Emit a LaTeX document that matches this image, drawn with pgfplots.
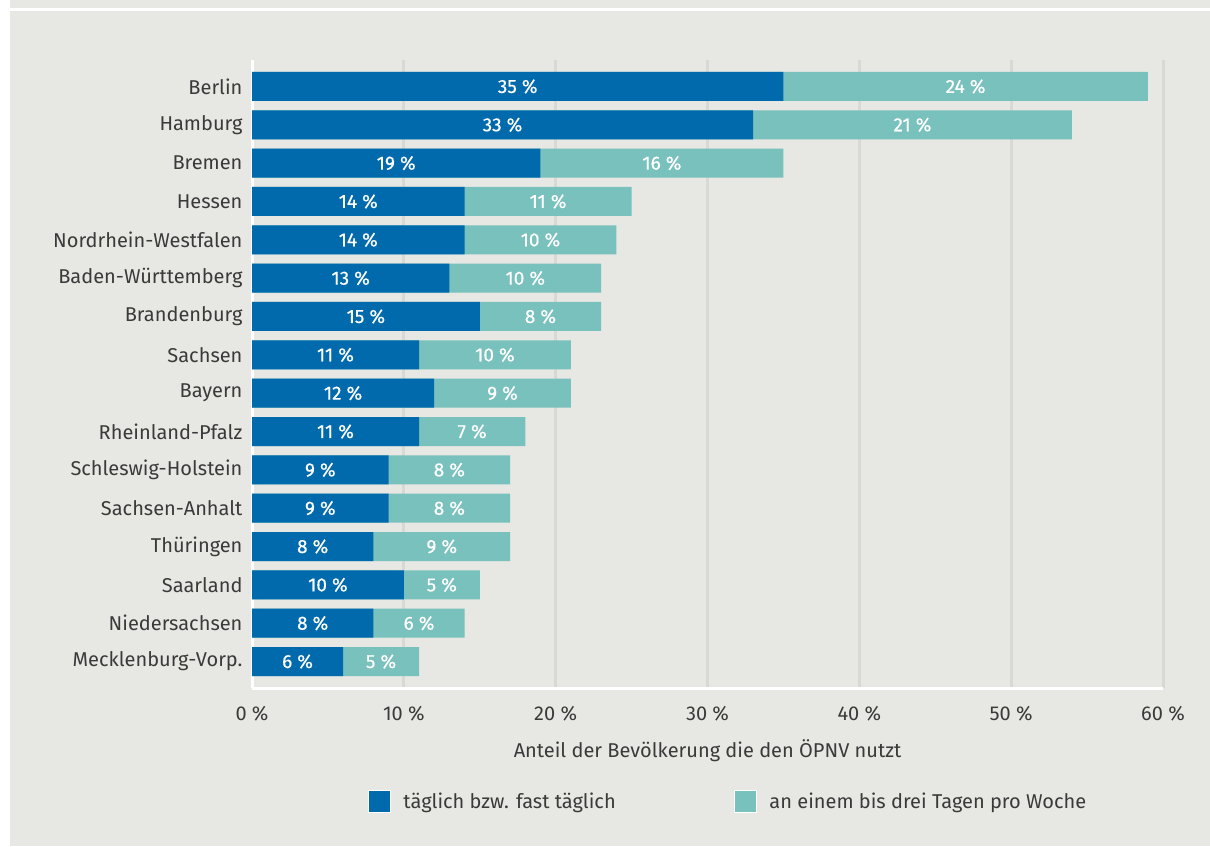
\documentclass[border=0pt]{standalone}
\usepackage{pgfplots}
\pgfplotsset{compat=1.18}
\usepackage{pgfplotstable}
\usepackage{fontspec}
\setmainfont{Fira Sans}
\newfontfamily\lblfont{Fira Sans}[FakeBold=0.5]
\definecolor{bgc}{HTML}{E7E7E3}
\definecolor{gridc}{HTML}{D8D8D6}
\definecolor{blueC}{HTML}{006AAD}
\definecolor{tealC}{HTML}{79C1BC}
\definecolor{txt}{HTML}{3A3A3A}
\pgfplotstableread{
y a b
0 35 24
1 33 21
2 19 16
3 14 11
4 14 10
5 13 10
6 15 8
7 11 10
8 12 9
9 11 7
10 9 8
11 9 8
12 8 9
13 10 5
14 8 6
15 6 5
}\data
\newcommand{\fs}{\fontsize{20}{23}\selectfont}
\newcommand{\fsb}{\fontsize{19}{22}\selectfont}
\begin{document}
\begin{tikzpicture}[x=1pt,y=1pt]
\useasboundingbox (0,0) rectangle (1210,846);
\fill[bgc] (0,0) rectangle (1210,846);
\fill[white] (0,0) rectangle (10,846);
\fill[white] (10,835) rectangle (1210,838);
\begin{axis}[
  at={(252pt,158pt)}, anchor=south west,
  scale only axis, width=911pt, height=628pt,
  xmin=0, xmax=60, ymin=-0.69, ymax=15.69, y dir=reverse,
  axis x line*=bottom, axis y line*=left,
  axis line style={white, line width=3pt, -},
  xmajorgrids, major grid style={gridc, line width=3pt},
  major tick length=0pt,
  xtick={0,10,20,30,40,50,60},
  xticklabels={0~\%,10~\%,20~\%,30~\%,40~\%,50~\%,60~\%},
  ytick={0,...,15},
  yticklabels={Berlin,Hamburg,Bremen,Hessen,Nordrhein-Westfalen,Baden-Württemberg,Brandenburg,Sachsen,Bayern,Rheinland-Pfalz,Schleswig-Holstein,Sachsen-Anhalt,Thüringen,Saarland,Niedersachsen,Mecklenburg-Vorp.},
  tick label style={font=\fs, text=txt},
  yticklabel style={xshift=-6pt},
  xticklabel style={yshift=-15pt},
  xlabel={Anteil der Bevölkerung die den ÖPNV nutzt},
  xlabel style={font=\fs, text=txt, yshift=-11pt},
  legend columns=2,
  legend style={at={(0.5225,-0.18)}, anchor=center, draw=none, fill=none, font=\fs, text=txt,
    /tikz/every even column/.append style={column sep=116pt}},
  legend image code/.code={\draw[#1, draw=white, line width=1pt] (0pt,-11pt) rectangle (22pt,11pt); \path (33pt,0pt);},
  clip=false,
]
\addplot[xbar, bar width=29pt, bar shift=0pt, fill=tealC, draw=none, forget plot] table[x expr=\thisrow{a}+\thisrow{b}, y=y] {\data};
\addplot[xbar, bar width=29pt, bar shift=0pt, fill=blueC, draw=none, forget plot] table[x=a, y=y] {\data};
\addplot[only marks, mark=none, forget plot, point meta=\thisrow{a},
  nodes near coords={\pgfmathprintnumber[assume math mode=true]{\pgfplotspointmeta}~\%},
  every node near coord/.style={anchor=center, text=white, font=\fsb\lblfont}]
  table[x expr=\thisrow{a}/2, y=y] {\data};
\addplot[only marks, mark=none, forget plot, point meta=\thisrow{b},
  nodes near coords={\pgfmathprintnumber[assume math mode=true]{\pgfplotspointmeta}~\%},
  every node near coord/.style={anchor=center, text=white, font=\fsb\lblfont}]
  table[x expr=\thisrow{a}+\thisrow{b}/2, y=y] {\data};
\addlegendimage{fill=blueC}
\addlegendentry{täglich bzw. fast täglich}
\addlegendimage{fill=tealC}
\addlegendentry{an einem bis drei Tagen pro Woche}
\end{axis}
\end{tikzpicture}
\end{document}
